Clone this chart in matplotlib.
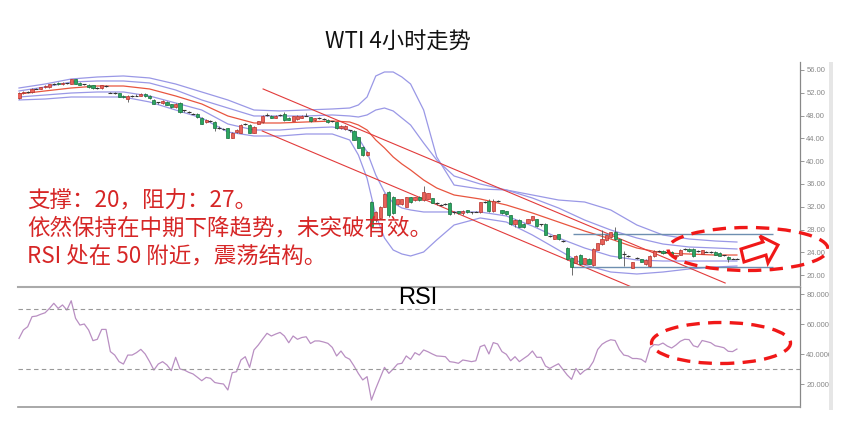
import matplotlib
matplotlib.use("Agg")
import matplotlib.pyplot as plt
from matplotlib.patches import Ellipse, Polygon, Rectangle

plt.rcParams['font.family'] = ['Noto Sans CJK SC', 'DejaVu Sans']

# ---- candle data (4h bars) ----
opens = [51.1, 51.9, 52.1, 52.1, 52.7, 52.7, 53.0, 53.0, 53.5, 53.8,
         53.5, 53.7, 53.6, 54.4, 53.8, 53.5, 53.4, 53.3, 52.9, 52.8,
         53.2, 52.0, 52.0, 51.9, 51.5, 50.9, 51.4, 51.5, 51.5, 51.8,
         51.5, 50.8, 50.3, 50.2, 50.4, 50.0, 49.5, 50.2, 48.9, 48.7,
         48.3, 48.3, 47.6, 46.8, 47.0, 46.9, 45.9, 45.6, 45.8, 44.1,
         45.1, 45.0, 46.5, 46.4, 45.0, 46.6, 46.8, 48.1, 48.0, 47.6,
         48.1, 48.3, 47.6, 47.1, 47.4, 47.6, 48.0, 47.7, 47.2, 47.5,
         47.4, 47.3, 47.0, 46.8, 45.8, 45.6, 45.4, 45.3, 44.2, 42.5,
         41.0, 32.8, 29.6, 30.0, 32.0, 34.6, 33.7, 32.5, 32.5, 32.0,
         33.7, 33.2, 33.8, 33.2, 33.4, 33.5, 32.6, 32.3, 32.5, 32.7,
         31.0, 31.2, 30.9, 31.4, 31.0, 31.1, 31.0, 32.8, 33.0, 31.2,
         33.1, 31.4, 31.2, 30.5, 29.0, 29.7, 29.0, 29.2, 29.6, 29.8,
         28.9, 29.0, 26.9, 26.4, 27.2, 26.0, 24.8, 23.0, 22.2, 23.6,
         22.0, 22.9, 21.8, 24.5, 25.4, 26.1, 26.7, 27.5, 26.3, 23.8,
         23.4, 21.3, 23.0, 22.8, 21.9, 21.6, 23.3, 24.2, 24.3, 24.1,
         24.1, 23.3, 23.6, 24.6, 24.6, 24.6, 24.2, 23.8, 24.1, 24.1,
         24.1, 23.9, 23.5, 23.2, 22.9, 22.9]
closes = [52.0, 52.1, 52.1, 52.7, 52.7, 53.0, 53.2, 53.5, 53.5, 53.5,
          53.8, 53.7, 54.4, 53.6, 53.4, 53.5, 53.0, 52.8, 52.9, 53.3,
          53.2, 52.0, 52.0, 51.3, 51.2, 51.5, 51.4, 51.5, 51.8, 51.4,
          51.0, 50.1, 50.3, 50.6, 49.9, 49.5, 50.1, 48.6, 48.9, 48.7,
          48.3, 47.7, 46.6, 47.3, 47.0, 45.8, 45.9, 45.6, 44.1, 45.0,
          45.5, 46.4, 46.5, 45.0, 46.0, 47.0, 48.0, 48.1, 47.6, 48.0,
          48.1, 47.2, 47.3, 47.9, 48.0, 48.0, 48.0, 47.0, 47.5, 47.5,
          47.4, 46.8, 47.0, 45.8, 46.2, 46.2, 45.4, 43.8, 42.4, 41.0,
          41.6, 28.6, 31.0, 32.0, 34.2, 30.6, 30.9, 33.3, 33.3, 33.7,
          32.8, 33.7, 33.2, 34.6, 34.4, 32.7, 32.6, 32.3, 32.5, 30.7,
          31.0, 30.9, 31.3, 31.0, 31.0, 31.1, 32.8, 32.8, 31.2, 33.0,
          33.1, 30.9, 30.7, 28.9, 29.7, 28.5, 28.4, 29.8, 30.3, 28.6,
          28.9, 27.1, 26.9, 27.0, 26.3, 26.0, 22.8, 21.5, 23.4, 21.9,
          23.0, 22.0, 24.6, 25.6, 26.3, 27.0, 27.5, 26.3, 23.0, 23.8,
          23.4, 22.3, 23.0, 22.4, 22.7, 23.4, 24.3, 24.2, 23.9, 24.1,
          23.6, 23.5, 24.5, 24.6, 24.2, 23.3, 24.2, 24.4, 24.1, 24.1,
          23.6, 23.4, 23.5, 22.8, 22.9, 22.9]
highs = [52.2, 52.3, 52.3, 52.8, 52.9, 53.1, 53.3, 53.6, 53.7, 53.9,
         53.9, 53.8, 54.5, 54.5, 53.9, 53.6, 53.5, 53.3, 53.0, 53.4,
         53.4, 52.1, 52.1, 52.0, 51.6, 51.6, 51.6, 51.7, 51.9, 51.9,
         51.6, 50.9, 50.4, 50.7, 50.5, 50.1, 50.2, 50.3, 49.0, 48.8,
         48.5, 48.4, 47.8, 47.4, 47.2, 47.0, 46.2, 45.9, 45.9, 45.1,
         45.6, 46.5, 46.7, 46.5, 46.1, 47.1, 48.1, 48.5, 48.1, 48.1,
         48.3, 48.6, 47.7, 48.0, 48.1, 48.1, 48.4, 47.8, 47.6, 47.7,
         47.5, 47.4, 47.1, 46.9, 46.3, 46.3, 45.5, 45.4, 44.3, 42.6,
         41.7, 33.0, 31.2, 32.2, 34.4, 34.8, 33.9, 33.4, 33.4, 33.8,
         33.8, 33.8, 33.9, 35.7, 34.5, 33.6, 32.8, 32.5, 32.7, 32.8,
         31.2, 31.3, 31.4, 31.5, 31.1, 31.3, 32.9, 33.0, 33.4, 33.4,
         33.2, 31.5, 31.3, 30.6, 29.8, 29.8, 29.1, 29.9, 30.4, 29.9,
         29.0, 29.1, 27.1, 27.1, 27.3, 26.2, 24.9, 23.1, 23.5, 23.7,
         23.1, 23.0, 24.7, 25.7, 27.9, 27.1, 27.6, 28.4, 26.4, 24.3,
         23.6, 22.4, 23.2, 22.9, 22.8, 23.5, 24.4, 24.4, 24.4, 24.3,
         24.2, 23.6, 24.6, 24.8, 24.7, 24.7, 24.4, 24.5, 24.2, 24.2,
         24.2, 24.0, 23.6, 23.3, 23.0, 23.0]
lows = [50.9, 51.8, 52.0, 52.0, 52.6, 52.6, 52.9, 52.9, 53.4, 53.4,
        53.4, 53.5, 53.5, 53.5, 53.3, 53.3, 52.9, 52.6, 52.7, 52.7,
        53.1, 51.9, 51.8, 51.2, 51.1, 50.4, 51.3, 51.4, 51.4, 51.3,
        50.9, 50.0, 50.1, 50.1, 49.8, 49.4, 49.4, 48.5, 48.7, 48.5,
        48.2, 47.6, 46.5, 46.7, 46.8, 45.3, 45.7, 45.5, 44.0, 44.0,
        45.0, 44.9, 46.3, 44.9, 44.9, 46.5, 46.7, 48.0, 47.5, 47.5,
        47.9, 47.1, 47.2, 47.0, 47.3, 47.5, 47.9, 46.9, 47.1, 47.4,
        47.3, 46.7, 46.8, 45.6, 45.7, 45.5, 45.2, 43.7, 42.3, 40.9,
        40.9, 27.9, 29.4, 29.8, 31.9, 30.2, 30.7, 32.4, 32.4, 31.9,
        32.7, 33.1, 33.1, 33.1, 33.3, 32.6, 32.4, 32.2, 32.3, 30.5,
        30.8, 30.8, 30.6, 30.9, 30.8, 31.0, 30.9, 32.7, 31.1, 31.1,
        32.9, 30.8, 30.6, 28.8, 28.5, 28.4, 28.3, 29.1, 29.5, 28.5,
        28.7, 27.0, 26.7, 26.3, 26.2, 25.9, 22.7, 20.1, 22.1, 21.8,
        21.9, 21.9, 21.7, 24.4, 25.3, 26.0, 26.6, 26.2, 22.9, 21.7,
        23.2, 21.2, 22.8, 22.3, 21.8, 21.5, 23.2, 24.0, 23.8, 24.0,
        23.5, 23.2, 23.5, 24.5, 24.1, 23.2, 24.1, 23.7, 24.0, 23.9,
        23.5, 23.3, 23.4, 22.3, 22.8, 22.8]

# RSI, one value per bar
rsi = [50.4, 56.0, 58.2, 64.9, 65.3, 66.5, 67.5, 70.4, 73.8, 70.4,
       72.7, 69.3, 75.5, 63.8, 59.3, 60.0, 56.0, 48.9, 49.8, 56.4,
       56.4, 41.6, 39.3, 34.9, 33.3, 39.3, 39.3, 40.9, 43.1, 40.0,
       35.0, 29.3, 33.3, 34.9, 32.7, 28.9, 37.8, 30.0, 29.3, 27.8,
       26.7, 24.5, 22.2, 24.4, 23.8, 21.0, 20.4, 20.0, 16.0, 27.5,
       28.2, 36.0, 38.2, 31.1, 42.7, 46.0, 50.0, 53.8, 52.0, 53.3,
       54.4, 52.0, 47.5, 52.0, 49.8, 51.0, 51.5, 47.0, 48.7, 48.7,
       48.0, 47.1, 44.4, 38.7, 42.0, 38.0, 36.5, 32.0, 27.0, 22.7,
       24.9, 9.3, 17.0, 24.0, 31.1, 27.1, 30.0, 33.3, 33.8, 38.7,
       36.4, 40.9, 39.3, 42.7, 41.5, 40.0, 38.7, 38.5, 38.2, 34.9,
       34.5, 33.8, 36.0, 35.5, 34.9, 35.5, 44.9, 46.0, 40.0, 47.6,
       46.7, 41.6, 39.8, 35.5, 38.2, 34.9, 37.0, 39.0, 42.0, 37.8,
       37.8, 32.0, 30.4, 32.0, 33.5, 29.8, 26.0, 23.1, 30.4, 26.4,
       29.0, 30.5, 35.0, 43.0, 46.5, 48.3, 49.5, 49.0, 43.0, 39.3,
       38.7, 37.0, 37.0, 36.5, 34.5, 44.0, 46.3, 46.0, 47.3, 45.3,
       44.0, 46.0, 48.5, 49.8, 49.6, 45.5, 44.6, 49.0, 48.3, 47.5,
       45.5, 44.9, 44.2, 41.8, 41.6, 43.3]

# Bollinger bands, sampled at these bars
bb_idx = [0, 6, 12, 18, 24, 30, 36, 42, 48, 54, 60, 66, 72, 76, 78, 80, 82,
          84, 86, 88, 90, 93, 96, 100, 106, 112, 118, 124, 130, 136, 142,
          148, 154, 160, 165]
bb_up2 = [52.84, 53.54, 54.42, 54.77, 54.95, 54.6, 53.54, 52.14, 50.74,
          48.98, 48.81, 48.98, 49.16, 49.33, 49.86, 51.26, 54.95, 55.65,
          55.65, 54.77, 53.54, 48.98, 40.74, 35.82, 35.12, 34.95, 34.07,
          33.19, 32.84, 31.44, 28.81, 27.05, 26.35, 26.0, 25.82]
bb_up1 = [52.32, 53.02, 53.89, 54.07, 54.07, 53.72, 52.49, 50.74, 49.33,
          47.93, 47.93, 47.93, 48.11, 47.93, 47.75, 48.11, 48.98, 49.33,
          48.81, 47.58, 46.35, 43.19, 40.21, 37.40, 36.0, 34.95, 33.54,
          31.79, 29.68, 27.93, 26.53, 25.47, 24.95, 24.77, 24.6]
bb_mid = [51.79, 52.32, 52.84, 53.19, 53.19, 52.67, 51.44, 50.04, 47.93,
          46.7, 46.7, 46.88, 47.05, 46.88, 46.35, 45.47, 43.72, 42.32,
          40.74, 39.51, 38.46, 36.7, 35.3, 34.07, 33.37, 32.32, 30.91,
          29.33, 27.75, 26.35, 24.77, 23.89, 23.72, 23.54, 23.54]
bb_dn1 = [51.26, 51.61, 51.96, 52.14, 52.14, 51.44, 50.21, 48.98, 46.53,
          45.47, 45.47, 45.82, 46.0, 45.47, 44.07, 41.61, 37.58, 34.6,
          32.67, 31.79, 31.44, 31.09, 31.09, 31.09, 31.09, 30.39, 28.63,
          26.53, 24.77, 23.37, 22.67, 22.49, 22.49, 22.49, 22.49]
bb_dn2 = [50.74, 50.91, 51.26, 51.26, 51.26, 50.39, 48.98, 47.58, 45.12,
          44.42, 44.42, 44.77, 44.77, 43.72, 41.09, 36.98, 30.56, 26.53,
          24.42, 23.72, 23.37, 24.07, 26.18, 28.81, 30.04, 29.33, 27.05,
          24.42, 21.79, 20.56, 20.21, 20.56, 21.09, 21.44, 21.61]

# down channel (two parallel trend lines) and range lines
chan_idx = [56.1, 162.3]
chan_top = [52.67, 18.63]
chan_low_idx = [55.9, 140.9]
chan_low = [45.3, 17.9]
range_idx = [127.4, 173.3]
support = 21.4
resistance = 27.2

title = 'WTI 4小时走势'
notes = ['支撑：20，阻力：27。',
         '依然保持在中期下降趋势，未突破有效。',
         'RSI 处在 50 附近，震荡结构。']

W, H = 841, 442


def fxy(x, y):
    # picture pixel -> figure fraction
    return x / W, 1 - y / H


fig = plt.figure(figsize=(W / 100, H / 100), dpi=100)
ax = fig.add_axes([18 / W, 1 - 287 / H, 782 / W, 225 / H])
ax2 = fig.add_axes([18 / W, 1 - 407 / H, 782 / W, 120 / H])

n = len(closes)
xs = list(range(n))

# wicks
ax.vlines(xs, lows, highs, color='#555555', lw=0.6, zorder=3)
for i in xs:
    o, c = opens[i], closes[i]
    if c > o:
        ax.bar(i, c - o, bottom=o, width=0.72, color='#e8625a',
               edgecolor='#b8322c', lw=0.5, zorder=4)
    elif c < o:
        ax.bar(i, o - c, bottom=c, width=0.72, color='#2aa661',
               edgecolor='#17703d', lw=0.5, zorder=4)
    else:
        ax.hlines(c, i - 0.45, i + 0.45, color='#333333', lw=0.8, zorder=4)

# bands
band_c = '#9a98e6'
ax.plot(bb_idx, bb_up2, color=band_c, lw=0.9, zorder=2)
ax.plot(bb_idx, bb_up1, color=band_c, lw=0.9, zorder=2)
ax.plot(bb_idx, bb_dn1, color=band_c, lw=0.9, zorder=2)
ax.plot(bb_idx, bb_dn2, color=band_c, lw=0.9, zorder=2)
ax.plot(bb_idx, bb_mid, color='#e8553f', lw=0.9, zorder=2)

# channel + range
ax.plot(chan_idx, chan_top, color='#e23b3b', lw=0.8, zorder=2)
ax.plot(chan_low_idx, chan_low, color='#e23b3b', lw=0.8, zorder=2)
ax.hlines([support, resistance], range_idx[0], range_idx[1],
          color='#6e8fb0', lw=1.0, zorder=2)

ax.set_xlim(-0.23, 179.5)
ax.set_ylim(17.93, 57.4)
ax.set_yticks(range(20, 57, 4))
ax.set_yticklabels(['%.2f' % v for v in range(20, 57, 4)])

ax2.plot(xs, rsi, color='#b98fc2', lw=0.9)
ax2.axhline(70, color='#999999', lw=0.8, ls=(0, (4, 3)))
ax2.axhline(30, color='#999999', lw=0.8, ls=(0, (4, 3)))
ax2.set_xlim(-0.23, 179.5)
ax2.set_ylim(4.67, 84.67)
ax2.set_yticks([20, 40, 60, 80])
ax2.set_yticklabels(['%.4f' % v for v in [20, 40, 60, 80]])

for a in (ax, ax2):
    a.set_xticks([])
    a.yaxis.tick_right()
    a.tick_params(axis='y', direction='out', length=3, width=0.6, color='#888888',
                  labelsize=5.5, labelcolor='#888888', pad=1.5)
    for lab in a.get_yticklabels():
        lab.set_family('Liberation Sans')
    a.spines['left'].set_visible(False)
    a.spines['top'].set_visible(False)
    a.spines['right'].set_color('#888888')
    a.spines['right'].set_linewidth(0.9)
    a.patch.set_alpha(0)
ax.spines['bottom'].set_color('#aaaaaa')
ax.spines['bottom'].set_linewidth(1.5)
ax2.spines['bottom'].set_color('#999999')
ax2.spines['bottom'].set_linewidth(1.2)

# title, panel label and notes
fig.text(*fxy(398, 42), title, ha='center', va='center', fontsize=16, color='#111111')
fig.text(*fxy(418, 298), 'RSI', ha='center', va='center', fontsize=17,
         family=['Liberation Sans'], color='#000000')
for k, line in enumerate(notes):
    fig.text(*fxy(27, 201 + k * 27.5), line, ha='left', va='center',
             fontsize=16.2, color='#d62626')

# marks drawn on top: dashed ellipses and hollow arrow
red = '#f01818'
cx, cy = fxy(748, 249)
fig.patches.append(Ellipse((cx, cy), 160 / W, 43 / H, transform=fig.transFigure,
                           fill=False, ec=red, lw=2.4, ls=(0, (4, 2.5)), zorder=10))
cx, cy = fxy(721, 343)
fig.patches.append(Ellipse((cx, cy), 139 / W, 41 / H, transform=fig.transFigure,
                           fill=False, ec=red, lw=2.4, ls=(0, (4, 2.5)), zorder=10))
arrow_px = [(741, 249), (763, 242), (760, 236), (778, 245), (768, 263),
            (766, 255), (744, 262)]
fig.patches.append(Polygon([fxy(x, y) for x, y in arrow_px], closed=True,
                           transform=fig.transFigure, fc='white', ec=red,
                           lw=2.2, zorder=11))

# light strip at the right edge
fig.patches.append(Rectangle(fxy(829, 410), 4 / W, 348 / H, transform=fig.transFigure,
                             fc='#e6e6e6', ec='none', zorder=12))

fig.savefig('out.png', dpi=100)
